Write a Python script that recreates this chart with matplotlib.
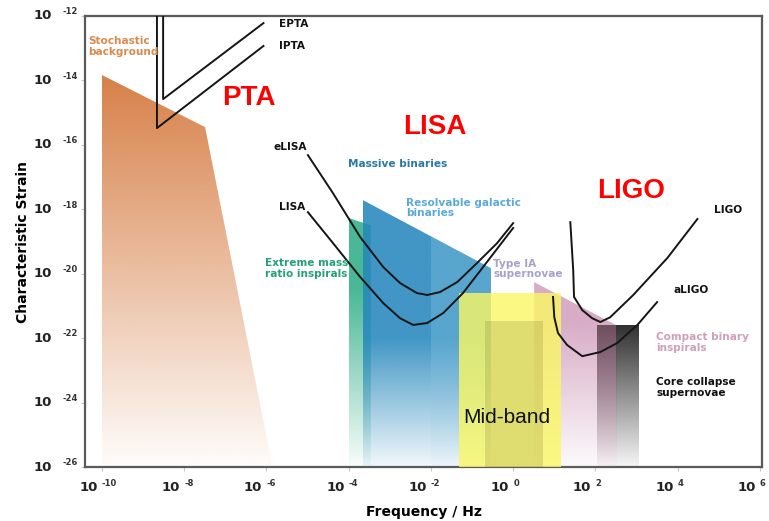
import numpy as np
import matplotlib
matplotlib.use("Agg")
import matplotlib.pyplot as plt
from matplotlib.patches import Polygon
from matplotlib.colors import to_rgb
from matplotlib.ticker import FixedLocator, NullFormatter

# all coordinates are log10(frequency / Hz) and log10(strain)
x_ticks = [-10, -8, -6, -4, -2, 0, 2, 4, 6]
y_ticks = [-12, -14, -16, -18, -20, -22, -24, -26]

stoch_x = [-10.0, -7.49, -5.85, -10.0]
stoch_y = [-13.83, -15.45, -26.0, -26.0]

emri_x = [-4.0, -3.46, -3.46, -4.0]
emri_y = [-18.27, -18.5, -26.0, -26.0]

massive_x = [-3.66, -0.54, -0.54, -3.66]
massive_y = [-17.71, -19.83, -26.0, -26.0]

galactic_x = [-2.0, -0.54, -0.54, -2.0]
galactic_y = [-18.83, -19.83, -26.0, -26.0]

typeia_x = [0.51, 2.51, 2.51, 0.51]
typeia_y = [-20.26, -21.6, -26.0, -26.0]

midband_x = [-1.32, 1.17, 1.17, -1.32]
midband_y = [-20.6, -20.6, -26.0, -26.0]
midinner_x = [-0.68, 0.73, 0.73, -0.68]
midinner_y = [-21.47, -21.47, -26.0, -26.0]

compact_x = [2.05, 2.51, 2.51, 2.05]
compact_y = [-21.6, -21.6, -26.0, -26.0]
core_x = [2.51, 3.05, 3.05, 2.51]
core_y = [-21.6, -21.6, -26.0, -26.0]

epta_x = [-8.51, -8.51, -6.07]
epta_y = [-11.9, -14.58, -12.22]
ipta_x = [-8.66, -8.66, -6.07]
ipta_y = [-11.9, -15.48, -12.93]

elisa_x = [-4.99, -4.38, -3.72, -3.16, -2.75, -2.34, -2.09, -1.78, -1.36, -0.88, -0.39, 0.0]
elisa_y = [-16.32, -17.50, -18.86, -19.79, -20.29, -20.60, -20.66, -20.57, -20.26, -19.67, -19.05, -18.43]
lisa_x = [-4.99, -4.38, -3.72, -3.16, -2.75, -2.43, -2.09, -1.70, -1.22, -0.73, -0.32, 0.0]
lisa_y = [-18.09, -19.05, -20.10, -20.91, -21.38, -21.59, -21.53, -21.22, -20.60, -19.79, -19.11, -18.58]

ligo_x = [1.39, 1.46, 1.48, 1.68, 1.92, 2.12, 2.36, 2.92, 3.75, 4.48]
ligo_y = [-18.40, -19.89, -20.72, -21.13, -21.38, -21.50, -21.35, -20.66, -19.51, -18.30]
aligo_x = [0.97, 1.00, 1.09, 1.31, 1.68, 2.12, 2.53, 3.02, 3.50]
aligo_y = [-20.72, -21.35, -21.84, -22.21, -22.56, -22.43, -22.15, -21.59, -20.88]


def grad_fill(ax, xs, ys, color, y_full, y_zero, amax=1.0, z=1):
    # polygon filled with a colour that fades out towards the bottom
    poly = Polygon(np.column_stack([xs, ys]), closed=True, facecolor='none',
                   edgecolor='none')
    ax.add_patch(poly)
    top = max(ys)
    yy = np.linspace(-26, top, 300)
    a = np.clip((yy - y_zero) / (y_full - y_zero), 0, 1) * amax
    img = np.zeros((len(yy), 1, 4))
    img[:, 0, :3] = to_rgb(color)
    img[:, 0, 3] = a
    im = ax.imshow(img, extent=[min(xs), max(xs), -26, top], origin='lower',
                   aspect='auto', interpolation='bilinear', zorder=z)
    im.set_clip_path(poly)


fig = plt.figure(figsize=(7.69, 5.21), dpi=100)
ax = fig.add_axes([0.1105, 0.1036, 0.8804, 0.8657])

grad_fill(ax, stoch_x, stoch_y, '#d78048', -13.83, -26.3, 1.0, 1)
grad_fill(ax, emri_x, emri_y, '#35b08a', -20.5, -26.2, 0.9, 2)
grad_fill(ax, massive_x, massive_y, '#2688bd', -22.0, -26.3, 0.88, 3)
grad_fill(ax, galactic_x, galactic_y, '#8fc9e6', -22.0, -26.3, 0.3, 4)
grad_fill(ax, typeia_x, typeia_y, '#d6a8c4', -21.5, -26.3, 0.95, 3)
ax.add_patch(Polygon(np.column_stack([midband_x, midband_y]), closed=True,
                     facecolor='#faf864', alpha=0.8, edgecolor='none', zorder=5))
ax.add_patch(Polygon(np.column_stack([midinner_x, midinner_y]), closed=True,
                     facecolor='#786e28', alpha=0.2, edgecolor='none', zorder=6))
grad_fill(ax, compact_x, compact_y, '#6e505f', -21.6, -26.2, 1.0, 6)
grad_fill(ax, core_x, core_y, '#303030', -21.6, -26.2, 1.0, 6)

for xs, ys in [(epta_x, epta_y), (ipta_x, ipta_y), (elisa_x, elisa_y),
               (lisa_x, lisa_y), (ligo_x, ligo_y), (aligo_x, aligo_y)]:
    ax.plot(xs, ys, color='#151515', lw=1.4, zorder=8, solid_joinstyle='round')

sm = dict(fontsize=7.6, fontweight='bold', va='center', ha='left', zorder=9,
          linespacing=1.05)
ax.text(-10.34, -12.95, 'Stochastic\nbackground', color='#d98a4e', **sm)
ax.text(-5.69, -12.25, 'EPTA', color='#111111', **sm)
ax.text(-5.69, -12.93, 'IPTA', color='#111111', **sm)
ax.text(-5.82, -16.07, 'eLISA', color='#111111', **sm)
ax.text(-5.69, -17.93, 'LISA', color='#111111', **sm)
ax.text(-4.01, -16.59, 'Massive binaries', color='#2a78a8', **sm)
ax.text(-2.60, -17.96, 'Resolvable galactic\nbinaries', color='#5aaad8', **sm)
ax.text(-6.03, -19.84, 'Extreme mass\nratio inspirals', color='#25a07a', **sm)
ax.text(-0.49, -19.85, 'Type IA\nsupernovae', color='#a8a0cc', **sm)
ax.text(4.89, -18.02, 'LIGO', color='#111111', **sm)
ax.text(3.89, -20.51, 'aLIGO', color='#111111', **sm)
ax.text(3.48, -22.14, 'Compact binary\ninspirals', color='#cfa0b8', **sm)
ax.text(3.48, -23.53, 'Core collapse\nsupernovae', color='#111111', **sm)

big = dict(fontsize=20, fontweight='bold', color='#ff0000', va='center',
           ha='left', family='Liberation Sans', zorder=9)
ax.text(-7.08, -14.55, 'PTA', **big)
ax.text(-2.68, -15.45, 'LISA', **big)
ax.text(2.04, -17.43, 'LIGO', **big)
ax.text(-1.22, -24.45, 'Mid-band', fontsize=15, color='#111111', va='center',
        ha='left', family='Liberation Sans', zorder=9)

ax.set_xlim(-10.41, 6.05)
ax.set_ylim(-26, -12)

ax.xaxis.set_major_locator(FixedLocator(x_ticks))
ax.yaxis.set_major_locator(FixedLocator(y_ticks))
ax.xaxis.set_major_formatter(NullFormatter())
ax.yaxis.set_major_formatter(NullFormatter())
ax.tick_params(axis='both', direction='out', length=3, color='#c8c8c8')

# tick labels drawn as "10" plus a small raised exponent
base = dict(fontsize=9.5, fontweight='bold', color='#222222', va='center',
            annotation_clip=False)
expo = dict(fontsize=6, fontweight='bold', color='#333333', va='center',
            ha='left', annotation_clip=False)
for v in x_ticks:
    ax.annotate('10', xy=(v, 0), xycoords=('data', 'axes fraction'),
                xytext=(-3, -15), textcoords='offset points', ha='right', **base)
    ax.annotate(str(v), xy=(v, 0), xycoords=('data', 'axes fraction'),
                xytext=(0, -12.2), textcoords='offset points', **expo)
for v in y_ticks:
    ax.annotate('10', xy=(0, v), xycoords=('axes fraction', 'data'),
                xytext=(-23.5, 0), textcoords='offset points', ha='right', **base)
    ax.annotate(str(v), xy=(0, v), xycoords=('axes fraction', 'data'),
                xytext=(-16.5, 3), textcoords='offset points', **expo)

for s in ax.spines.values():
    s.set_color('#5a5a5a')
    s.set_linewidth(1.6)

ax.set_xlabel('Frequency / Hz', fontsize=10, fontweight='bold', labelpad=20.5)
ax.set_ylabel('Characteristic Strain', fontsize=10, fontweight='bold', labelpad=33)

fig.savefig('out.png', dpi=100)
